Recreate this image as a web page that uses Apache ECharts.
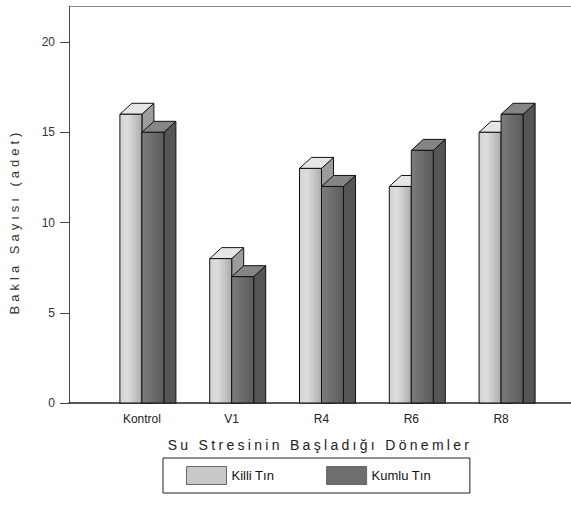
<!DOCTYPE html>
<html>
<head>
<meta charset="utf-8">
<script src="https://cdn.jsdelivr.net/npm/echarts@6/dist/echarts.min.js"></script>
<style>
html,body{margin:0;padding:0;background:#fff;}
#chart{width:571px;height:510px;}
</style>
</head>
<body>
<div id="chart"></div>
<script>
const categories = ['Kontrol', 'V1', 'R4', 'R6', 'R8'];
const killiTin = [16, 8, 13, 12, 15];
const kumluTin = [15, 7, 12, 14, 16];
const yTicks = [0, 5, 10, 15, 20];
const seriesNames = ['Killi Tın', 'Kumlu Tın'];
const yAxisTitle = 'Bakla Sayısı (adet)';
const xAxisTitle = 'Su Stresinin Başladığı Dönemler';

const FONT = 'Liberation Sans';
const W = 22, DX = 12, DY = 11;

function lin(stops) {
  return { type: 'linear', x: 0, y: 0, x2: 1, y2: 0,
    colorStops: stops.map((c, i) => ({ offset: i / (stops.length - 1), color: c })) };
}

const styles = [
  { front: lin(['#d2d2d2', '#dedede', '#c6c6c6', '#aaaaaa']), side: '#9c9c9c', top: '#e6e6e6' },
  { front: lin(['#7c7c7c', '#717171', '#666666', '#5c5c5c']), side: '#555555', top: '#858585' }
];

function makeRender(k) {
  return function (params, api) {
    const idx = api.value(0);
    const val = api.value(1);
    const base = api.coord([idx, 0]);
    const topP = api.coord([idx, val]);
    const cx = base[0];
    const y0 = base[1];
    const y1 = topP[1];
    const left = k === 0 ? cx - W : cx;
    const st = styles[k];
    const stroke = { stroke: '#111', lineWidth: 1 };
    return {
      type: 'group',
      children: [
        { type: 'polygon', shape: { points: [[left + W, y1], [left + W + DX, y1 - DY], [left + W + DX, y0], [left + W, y0]] },
          style: Object.assign({ fill: st.side }, stroke) },
        { type: 'polygon', shape: { points: [[left, y1], [left + DX, y1 - DY], [left + W + DX, y1 - DY], [left + W, y1]] },
          style: Object.assign({ fill: st.top }, stroke) },
        { type: 'rect', shape: { x: left, y: y1, width: W, height: y0 - y1 },
          style: Object.assign({ fill: st.front }, stroke) }
      ]
    };
  };
}

const container = document.getElementById('chart');
const chart = echarts.init(container, null, { renderer: 'svg' });
const gridTop = 6, gridBottom = 107;
chart.setOption({
  backgroundColor: '#fff',
  animation: false,
  textStyle: { fontFamily: FONT },
  grid: [
    { left: 65, right: 0, top: gridTop, bottom: gridBottom },
    { left: 97, width: 449, top: gridTop, bottom: gridBottom }
  ],
  xAxis: [
    { gridIndex: 0, type: 'value', min: 0, max: 1, position: 'bottom',
      axisLine: { show: true, onZero: false, lineStyle: { color: '#222', width: 1.5 } },
      axisTick: { show: false }, axisLabel: { show: false }, splitLine: { show: false },
      name: xAxisTitle, nameLocation: 'middle', nameGap: 35,
      nameTextStyle: { fontFamily: FONT, fontSize: 14, color: '#222' } },
    { gridIndex: 1, type: 'category', data: categories, boundaryGap: true,
      axisLine: { show: false }, axisTick: { show: false },
      axisLabel: { margin: 10, fontFamily: FONT, fontSize: 12, color: '#222' } },
    { gridIndex: 0, type: 'value', min: 0, max: 1, position: 'top',
      axisLine: { show: true, onZero: false, lineStyle: { color: '#888', width: 1 } },
      axisTick: { show: false }, axisLabel: { show: false }, splitLine: { show: false } }
  ],
  yAxis: [
    { gridIndex: 0, type: 'value', min: 0, max: 22, interval: 5,
      axisLine: { show: true, onZero: false, lineStyle: { color: '#444', width: 1 } },
      axisTick: { show: true, inside: false, length: 9, customValues: yTicks, lineStyle: { color: '#444' } },
      axisLabel: { margin: 14, fontFamily: FONT, fontSize: 12, color: '#333', customValues: yTicks },
      splitLine: { show: false },
      name: yAxisTitle, nameLocation: 'middle', nameGap: 48, nameRotate: 90,
      nameTextStyle: { fontFamily: FONT, fontSize: 13, color: '#333', padding: [0, 34, 0, 0] } },
    { gridIndex: 1, type: 'value', min: 0, max: 22, show: false }
  ],
  legend: {
    data: seriesNames,
    left: 163, top: 458,
    orient: 'horizontal',
    itemWidth: 40, itemHeight: 18, itemGap: 52,
    icon: 'rect',
    padding: [8, 39, 8, 23],
    borderColor: '#222', borderWidth: 1,
    itemStyle: { borderColor: '#666', borderWidth: 1 },
    textStyle: { fontFamily: FONT, fontSize: 13, color: '#111' }
  },
  series: [
    { name: seriesNames[0], type: 'custom', xAxisIndex: 1, yAxisIndex: 1,
      itemStyle: { color: '#c8c8c8' },
      renderItem: makeRender(0), encode: { x: 0, y: 1 },
      data: killiTin.map((v, i) => [i, v]) },
    { name: seriesNames[1], type: 'custom', xAxisIndex: 1, yAxisIndex: 1,
      itemStyle: { color: '#6e6e6e' },
      renderItem: makeRender(1), encode: { x: 0, y: 1 },
      data: kumluTin.map((v, i) => [i, v]) }
  ]
});

function spaceTitles() {
  container.querySelectorAll('text').forEach(function (t) {
    const s = t.textContent;
    if (s === xAxisTitle) t.style.letterSpacing = '3.3px';
    else if (s === yAxisTitle) t.style.letterSpacing = '4px';
  });
}
spaceTitles();
chart.on('finished', spaceTitles);
</script>
</body>
</html>
